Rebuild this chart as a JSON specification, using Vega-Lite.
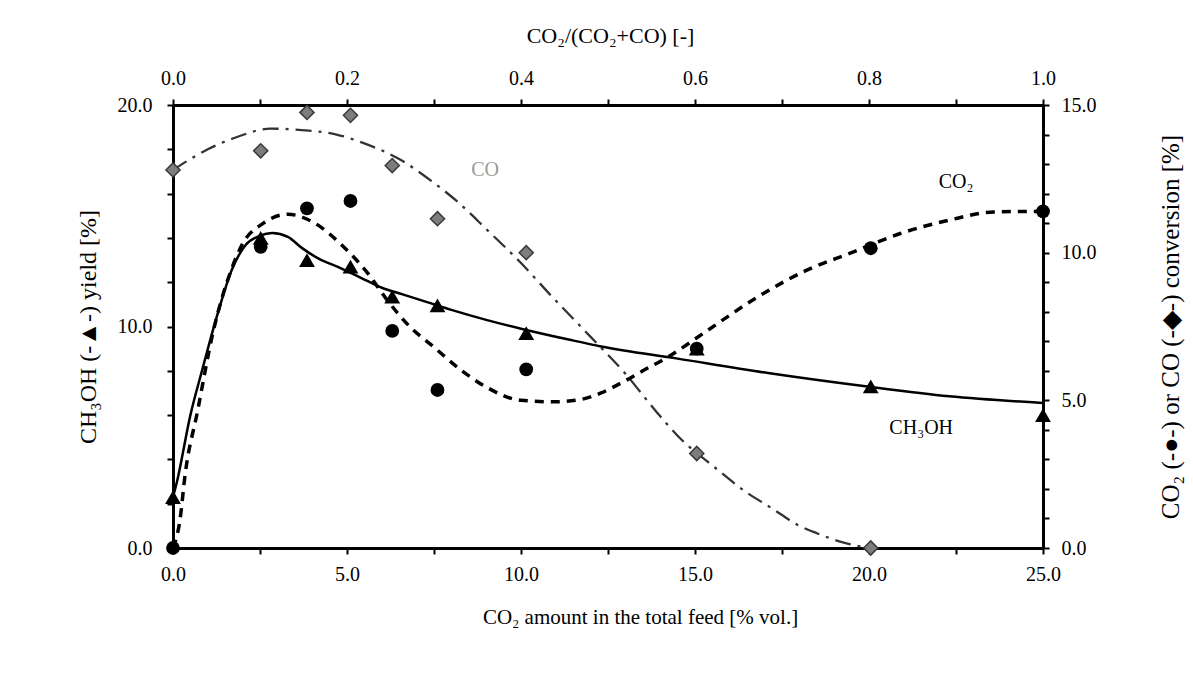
{
  "$schema": "https://vega.github.io/schema/vega-lite/v6.json",
  "width": 870,
  "height": 443,
  "autosize": {"type": "none"},
  "padding": {"left": 173, "top": 105, "right": 150, "bottom": 134},
  "background": "white",
  "config": {
    "font": "Liberation Serif",
    "view": {"stroke": null},
    "axis": {
      "grid": false,
      "domainColor": "black",
      "domainWidth": 3,
      "tickColor": "black",
      "tickWidth": 2,
      "tickSize": 6,
      "labelFont": "Liberation Serif",
      "labelFontSize": 20,
      "labelColor": "black",
      "labelOverlap": false,
      "labelFlush": false,
      "titleFont": "Liberation Serif",
      "titleFontWeight": "normal",
      "titleColor": "black"
    }
  },
  "datasets": {
    "points": [
      {"x": 0, "ch3oh": 2.3, "co2": 0, "co": 12.8},
      {"x": 2.52, "ch3oh": 14.0, "co2": 10.2, "co": 13.45},
      {"x": 3.85, "ch3oh": 13.0, "co2": 11.5, "co": 14.75},
      {"x": 5.1, "ch3oh": 12.7, "co2": 11.75, "co": 14.65},
      {"x": 6.3, "ch3oh": 11.35, "co2": 7.35, "co": 12.95},
      {"x": 7.6, "ch3oh": 10.95, "co2": 5.35, "co": 11.15},
      {"x": 10.15, "ch3oh": 9.7, "co2": 6.05, "co": 10.0},
      {"x": 15.05, "ch3oh": 9.0, "co2": 6.75, "co": 3.2},
      {"x": 20.05, "ch3oh": 7.3, "co2": 10.15, "co": 0},
      {"x": 25, "ch3oh": 6.0, "co2": 11.4, "co": null}
    ],
    "ch3ohFit": [
      {"x": 0, "v": 2.3}, {"x": 0.1, "v": 2.9}, {"x": 0.5, "v": 6.0}, {"x": 0.85, "v": 8.1},
      {"x": 1.25, "v": 10.4}, {"x": 1.7, "v": 12.6}, {"x": 2.1, "v": 13.7}, {"x": 2.5, "v": 14.1},
      {"x": 2.85, "v": 14.22}, {"x": 3.3, "v": 14.05}, {"x": 3.7, "v": 13.55}, {"x": 4.2, "v": 13.05},
      {"x": 4.8, "v": 12.65}, {"x": 5.4, "v": 12.2}, {"x": 6.0, "v": 11.75}, {"x": 6.6, "v": 11.45},
      {"x": 7.3, "v": 11.1}, {"x": 8.0, "v": 10.75}, {"x": 9.0, "v": 10.3}, {"x": 10.0, "v": 9.9},
      {"x": 11.4, "v": 9.4}, {"x": 12.3, "v": 9.1}, {"x": 14.5, "v": 8.55}, {"x": 17.1, "v": 7.9},
      {"x": 19.9, "v": 7.3}, {"x": 22.3, "v": 6.85}, {"x": 25, "v": 6.55}
    ],
    "co2Fit": [
      {"x": 0, "v": 0}, {"x": 0.2, "v": 0.95}, {"x": 0.35, "v": 2.5}, {"x": 0.7, "v": 4.6},
      {"x": 1.15, "v": 7.3}, {"x": 1.7, "v": 9.5}, {"x": 2.0, "v": 10.3}, {"x": 2.6, "v": 11.0},
      {"x": 3.3, "v": 11.3}, {"x": 4.0, "v": 11.05}, {"x": 4.9, "v": 10.2}, {"x": 5.6, "v": 9.3},
      {"x": 6.15, "v": 8.4}, {"x": 6.8, "v": 7.5}, {"x": 7.5, "v": 6.8}, {"x": 8.25, "v": 6.05},
      {"x": 9.0, "v": 5.45}, {"x": 10.0, "v": 5.0}, {"x": 11.0, "v": 4.95}, {"x": 11.8, "v": 5.05},
      {"x": 12.3, "v": 5.25}, {"x": 12.9, "v": 5.6}, {"x": 13.5, "v": 6.0}, {"x": 14.2, "v": 6.45},
      {"x": 15.4, "v": 7.4}, {"x": 16.8, "v": 8.5}, {"x": 18.2, "v": 9.4}, {"x": 19.5, "v": 10.0},
      {"x": 20.9, "v": 10.65}, {"x": 22.3, "v": 11.1}, {"x": 23.6, "v": 11.38}, {"x": 25, "v": 11.4}
    ],
    "coFit": [
      {"x": 0, "v": 12.8}, {"x": 1.0, "v": 13.5}, {"x": 1.8, "v": 13.9}, {"x": 2.8, "v": 14.2},
      {"x": 3.7, "v": 14.15}, {"x": 4.7, "v": 14.0}, {"x": 5.5, "v": 13.7}, {"x": 6.6, "v": 13.1},
      {"x": 7.4, "v": 12.45}, {"x": 8.2, "v": 11.7}, {"x": 9.0, "v": 10.8}, {"x": 10.0, "v": 9.65},
      {"x": 10.9, "v": 8.5}, {"x": 12.0, "v": 7.15}, {"x": 13.0, "v": 5.9}, {"x": 13.9, "v": 4.6},
      {"x": 14.5, "v": 3.8}, {"x": 15.6, "v": 2.7}, {"x": 16.4, "v": 1.95}, {"x": 17.2, "v": 1.35},
      {"x": 18.0, "v": 0.75}, {"x": 18.5, "v": 0.5}, {"x": 19.3, "v": 0.17}, {"x": 20.0, "v": 0}
    ],
    "notes": [
      {"label": "CO", "x": 8.97, "v": 12.8},
      {"label": "CO₂", "x": 22.5, "v": 12.4},
      {"label": "CH₃OH", "x": 21.5, "v": 4.06}
    ]
  },
  "layer": [
    {
      "encoding": {
        "x": {"field": "x", "type": "quantitative", "scale": {"domain": [0, 25], "nice": false, "zero": false}, "axis": null},
        "y": {
          "field": "v", "type": "quantitative",
          "scale": {"domain": [0, 15], "nice": false, "zero": false},
          "axis": {
            "orient": "right",
            "values": [0, 1, 2, 3, 4, 5, 6, 7, 8, 9, 10, 11, 12, 13, 14, 15],
            "labelExpr": "indexof([0, 5, 10, 15], datum.value) >= 0 ? format(datum.value, '.1f') : ''",
            "labelOverlap": false,
            "labelPadding": 12,
            "title": "CO₂ (-●-) or CO (-◆-) conversion [%]",
            "titleFontSize": 25,
            "titleAngle": 270,
            "titleX": 127,
            "titleY": 221.5,
            "titleAlign": "center",
            "titleBaseline": "middle"
          }
        }
      },
      "layer": [
        {
          "data": {"name": "coFit"},
          "mark": {"type": "line", "color": "#333333", "strokeWidth": 2.3, "strokeDash": [16, 7, 3, 7], "interpolate": "monotone"}
        },
        {
          "data": {"name": "co2Fit"},
          "mark": {"type": "line", "color": "black", "strokeWidth": 3.5, "strokeDash": [9, 7], "interpolate": "monotone"}
        },
        {
          "data": {"name": "points"},
          "transform": [
            {"fold": ["co", "co2"], "as": ["series", "v"]},
            {"filter": "datum.series === 'co' && isValid(datum.v)"}
          ],
          "mark": {"type": "point", "shape": "diamond", "filled": true, "color": "#7d7d7d", "stroke": "#3a3a3a", "strokeWidth": 1.5, "opacity": 1, "size": 200}
        },
        {
          "data": {"name": "points"},
          "transform": [
            {"fold": ["co", "co2"], "as": ["series", "v"]},
            {"filter": "datum.series === 'co2' && isValid(datum.v)"}
          ],
          "mark": {"type": "point", "shape": "circle", "filled": true, "color": "black", "opacity": 1, "size": 190}
        },
        {
          "data": {"name": "notes"},
          "transform": [{"filter": "datum.label === 'CO'"}],
          "mark": {"type": "text", "font": "Liberation Serif", "fontSize": 20, "color": "#9a9a9a", "align": "center", "baseline": "middle"},
          "encoding": {"text": {"field": "label"}}
        },
        {
          "data": {"name": "notes"},
          "transform": [{"filter": "datum.label !== 'CO'"}],
          "mark": {"type": "text", "font": "Liberation Serif", "fontSize": 20, "color": "black", "align": "center", "baseline": "middle"},
          "encoding": {"text": {"field": "label"}}
        }
      ]
    },
    {
      "layer": [
        {
          "data": {"name": "ch3ohFit"},
          "mark": {"type": "line", "color": "black", "strokeWidth": 2.5, "interpolate": "monotone"},
          "encoding": {
            "x": {
              "field": "x", "type": "quantitative",
              "scale": {"domain": [0, 25], "nice": false, "zero": false},
              "axis": {
                "orient": "bottom",
                "values": [0, 2.5, 5, 7.5, 10, 12.5, 15, 17.5, 20, 22.5, 25],
                "labelExpr": "datum.value % 5 === 0 ? format(datum.value, '.1f') : ''",
                "labelOverlap": false,
                "labelPadding": 10,
                "title": "CO₂ amount in the total feed [% vol.]",
                "titleFontSize": 21,
                "titleX": 467,
                "titleY": 69,
                "titleAlign": "center",
                "titleBaseline": "middle"
              }
            },
            "y": {
              "field": "v", "type": "quantitative",
              "scale": {"domain": [0, 20], "nice": false, "zero": false},
              "axis": {
                "orient": "left",
                "values": [0, 2, 4, 6, 8, 10, 12, 14, 16, 18, 20],
                "labelExpr": "indexof([0, 10, 20], datum.value) >= 0 ? format(datum.value, '.1f') : ''",
                "labelOverlap": false,
                "labelPadding": 15,
                "title": "CH₃OH (-▲-) yield [%]",
                "titleFontSize": 24,
                "titleAngle": 270,
                "titleX": -85,
                "titleY": 221.5,
                "titleAlign": "center",
                "titleBaseline": "middle"
              }
            }
          }
        },
        {
          "data": {"name": "points"},
          "transform": [{"filter": "isValid(datum.ch3oh)"}],
          "mark": {"type": "point", "shape": "triangle-up", "filled": true, "color": "black", "opacity": 1, "size": 250},
          "encoding": {
            "x": {"field": "x", "type": "quantitative"},
            "y": {"field": "ch3oh", "type": "quantitative"}
          }
        }
      ]
    },
    {
      "data": {"values": [{}]},
      "mark": {"type": "point", "opacity": 0},
      "encoding": {
        "x": {
          "datum": 0, "type": "quantitative",
          "scale": {"domain": [0, 1], "nice": false, "zero": false},
          "axis": {
            "orient": "top",
            "values": [0, 0.1, 0.2, 0.3, 0.4, 0.5, 0.6, 0.7, 0.8, 0.9, 1.0],
            "labelExpr": "round(datum.value * 10) % 2 === 0 ? format(datum.value, '.1f') : ''",
            "labelOverlap": false,
            "labelPadding": 11,
            "title": "CO₂/(CO₂+CO) [-]",
            "titleFontSize": 22,
            "titleX": 437,
            "titleY": -70,
            "titleAlign": "center",
            "titleBaseline": "middle"
          }
        }
      }
    }
  ],
  "resolve": {"scale": {"x": "independent", "y": "independent"}}
}
